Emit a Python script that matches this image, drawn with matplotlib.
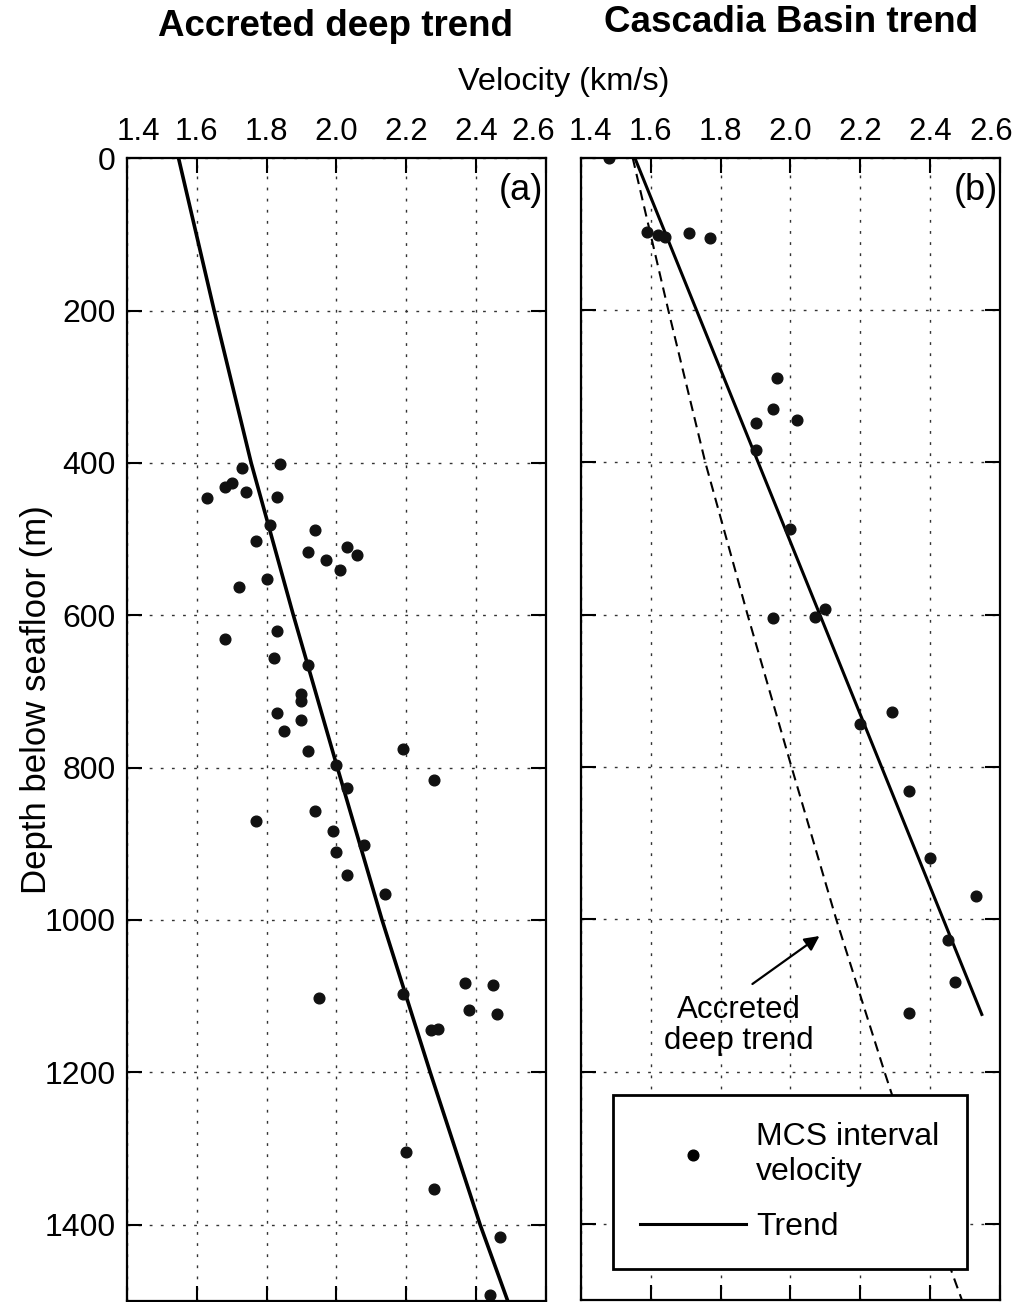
#!/usr/bin/env python3
"""Interval velocity vs depth: accreted section (a) and Cascadia Basin (b)."""
import matplotlib
matplotlib.use("Agg")
import matplotlib.pyplot as plt
from matplotlib.lines import Line2D
from matplotlib.transforms import ScaledTranslation

plt.rcParams["font.family"] = ["Liberation Sans", "DejaVu Sans"]

# (a) accreted section, MCS interval velocities (km/s) and depths (m)
vel_a = [1.84, 1.73, 1.70, 1.68, 1.63, 1.74, 1.83, 1.81, 1.94, 1.77,
         1.92, 1.97, 2.03, 2.06, 2.01, 1.80, 1.72, 1.83, 1.68, 1.82,
         1.92, 1.90, 1.90, 1.83, 1.90, 1.85, 1.92, 2.19, 2.00, 2.28,
         2.03, 1.77, 1.94, 1.99, 2.08, 2.00, 2.03, 2.14, 2.19, 1.95,
         2.37, 2.45, 2.38, 2.46, 2.27, 2.29, 2.20, 2.28, 2.47, 2.44]
dep_a = [401, 407, 426, 431, 446, 438, 445, 481, 488, 502,
         517, 527, 510, 521, 541, 553, 563, 620, 631, 656,
         665, 704, 712, 728, 738, 752, 778, 776, 797, 816,
         827, 870, 857, 883, 902, 911, 941, 966, 1097, 1103,
         1083, 1086, 1118, 1124, 1144, 1143, 1305, 1353, 1417, 1492]

# (b) Cascadia Basin
vel_b = [1.48, 1.59, 1.62, 1.64, 1.71, 1.77, 1.96, 1.95, 1.90, 2.02,
         1.90, 2.00, 1.95, 2.07, 2.10, 2.29, 2.20, 2.34, 2.40, 2.53,
         2.45, 2.47, 2.34]
dep_b = [0, 98, 101, 104, 99, 105, 289, 330, 348, 345,
         384, 487, 604, 603, 592, 728, 744, 831, 920, 970,
         1027, 1082, 1123]

# trends
acc_dep = [0, 200, 400, 600, 800, 1000, 1200, 1400, 1500]
acc_vel = [1.548, 1.650, 1.756, 1.877, 2.003, 2.131, 2.269, 2.412, 2.491]
cas_dep = [0, 1125]
cas_vel = [1.554, 2.548]

xticks = [1.4, 1.6, 1.8, 2.0, 2.2, 2.4, 2.6]
yticks = [0, 200, 400, 600, 800, 1000, 1200, 1400]

fig = plt.figure(figsize=(10.23, 13.02), dpi=100)
ax_a = fig.add_axes([0.1241, 0.0010, 0.4093, 0.8774])
ax_b = fig.add_axes([0.5679, 0.0015, 0.4096, 0.8774])

for ax in (ax_a, ax_b):
    ax.set_xlim(1.4, 2.6)
    ax.set_ylim(1500, 0)
    ax.set_xticks(xticks)
    ax.set_xticklabels([f"{t:.1f}" for t in xticks])
    ax.set_yticks(yticks)
    ax.xaxis.tick_top()
    ax.tick_params(direction="in", length=11, width=1.5, top=True, bottom=True,
                   left=True, right=True, labeltop=True, labelbottom=False,
                   pad=8)
    ax.tick_params(axis="x", labelsize=22.5)
    ax.tick_params(axis="y", labelsize=23)
    ax.grid(True, color="#333333", lw=1.0, ls=(0, (2, 6)))
    ax.set_axisbelow(True)
    for s in ax.spines.values():
        s.set_linewidth(1.6)

ax_b.tick_params(labelleft=False)


def nudge(ax, idx, dx_px):
    lbl = ax.xaxis.get_major_ticks()[idx].label2
    lbl.set_transform(lbl.get_transform()
                      + ScaledTranslation(dx_px / 100, 0, fig.dpi_scale_trans))


# outer tick labels sit a little inside the frame in the original
nudge(ax_a, 0, 11)
nudge(ax_a, -1, -12)
nudge(ax_b, 0, 9)
nudge(ax_b, -1, -9)

# (a)
ax_a.plot(acc_vel, acc_dep, color="k", lw=2.6)
ax_a.plot(vel_a, dep_a, "o", color="#111111", ms=7.7, ls="none")
ax_a.text(0.995, 0.987, "(a)", transform=ax_a.transAxes, ha="right", va="top",
          fontsize=26)
ax_a.set_ylabel("Depth below seafloor (m)", fontsize=25)
ax_a.yaxis.set_label_coords(-0.177, 0.526)

# (b)
ax_b.plot(acc_vel, acc_dep, color="k", lw=1.5, ls=(0, (5, 3)))
trend_ln, = ax_b.plot(cas_vel, cas_dep, color="k", lw=2.2)
ax_b.plot(vel_b, dep_b, "o", color="#111111", ms=7.7, ls="none")
ax_b.text(0.995, 0.987, "(b)", transform=ax_b.transAxes, ha="right", va="top",
          fontsize=26)
ax_b.annotate("", xy=(2.083, 1022), xytext=(1.891, 1085),
              arrowprops=dict(arrowstyle="-|>", color="k", lw=1.6,
                              mutation_scale=22, shrinkA=0, shrinkB=0))
ax_b.text(1.852, 1139, "Accreted\ndeep trend", ha="center", va="center",
          fontsize=22.5, linespacing=1.05)

mk = Line2D([], [], marker="o", color="k", ms=7.7, ls="none")
leg = ax_b.legend([mk, trend_ln], ["MCS interval\nvelocity", "Trend"],
                  loc="lower right", bbox_to_anchor=(0.9205, 0.0268),
                  borderaxespad=0, fontsize=23, handlelength=3.3,
                  handletextpad=0.33, borderpad=0.85, labelspacing=0.8,
                  fancybox=False, framealpha=1, edgecolor="k")
leg.get_frame().set_linewidth(2)

fig.text(0.3275, 1 - 27 / 1302, "Accreted deep trend", ha="center", va="center",
         fontsize=26.5, fontweight="bold")
fig.text(0.7737, 1 - 22 / 1302, "Cascadia Basin trend", ha="center", va="center",
         fontsize=26.5, fontweight="bold")
fig.text(0.5508, 1 - 82 / 1302, "Velocity (km/s)", ha="center", va="center",
         fontsize=23.4)

fig.savefig("out.png", dpi=100)
print("wrote out.png")
